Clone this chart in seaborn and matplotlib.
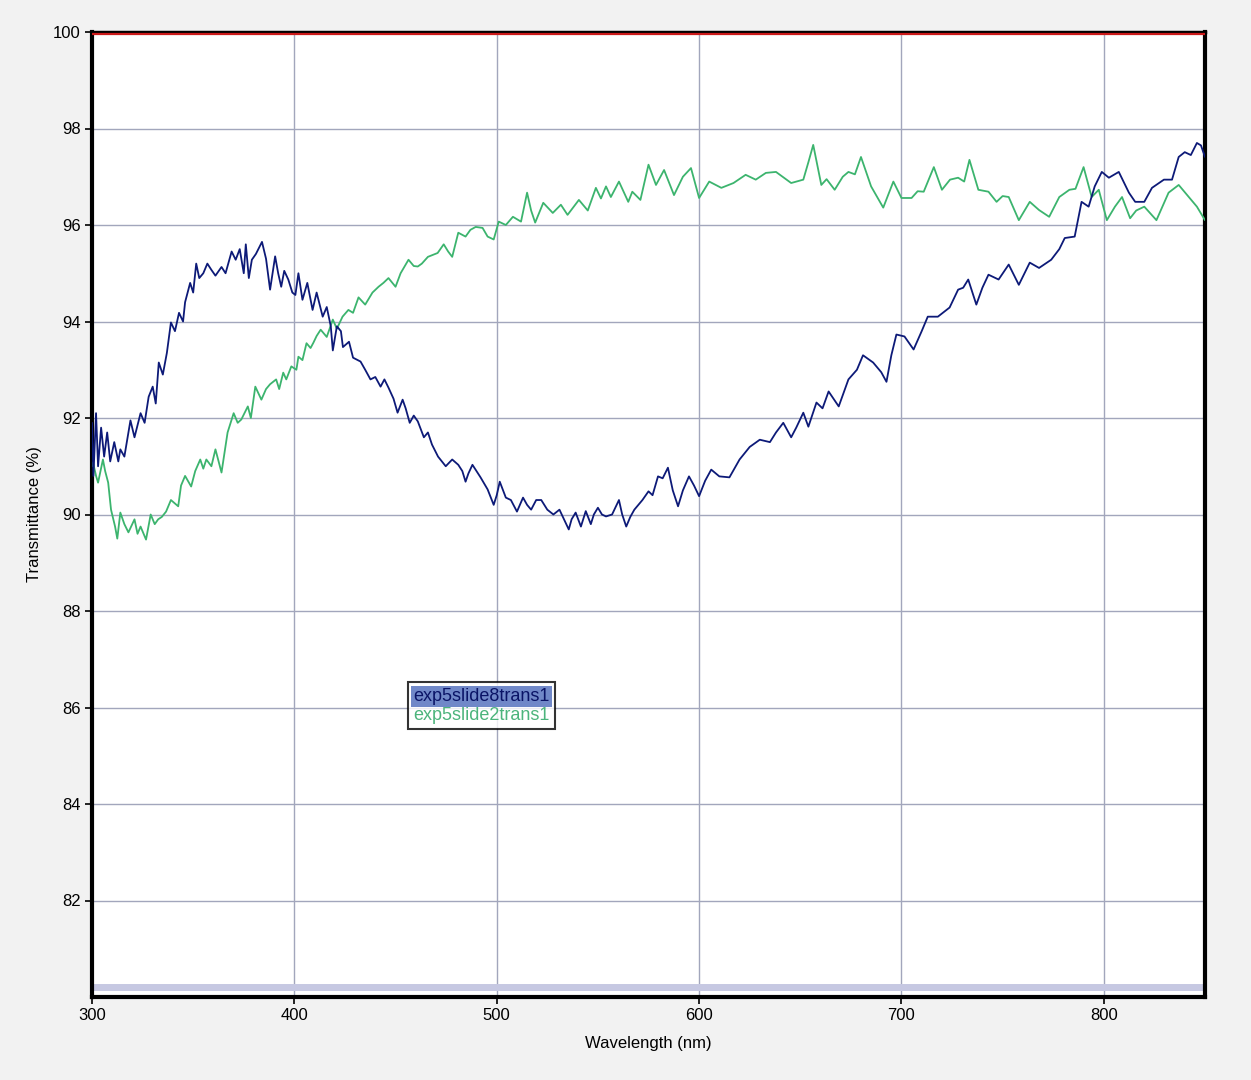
import matplotlib
matplotlib.use("Agg")
import matplotlib.pyplot as plt
import seaborn as sns
import pandas as pd

# Transmittance spectra (wavelength in nm, transmittance in %)
slide8_nm = [300, 300.7, 302, 303, 304.5, 306, 307.5, 309, 311, 313, 314, 316, 319, 321, 324, 326, 328, 330,
             331.5, 333, 335, 337, 339, 341, 343, 345, 346, 348.5, 350, 351.5, 353, 355, 357, 359, 361, 364,
             366, 369, 371, 373, 375, 376, 377.5, 379, 381, 384, 386, 388, 390.5, 392, 393.5, 395, 397, 399,
             400.5, 402, 404, 406.4, 409, 411, 414, 416, 418, 419, 421, 423, 424, 427, 429, 432.7, 435, 437.6,
             440, 442.6, 444.5, 446.5, 449, 451, 453.5, 455, 457, 459, 461, 464, 466, 468, 471, 474.8, 478,
             481, 483, 484.6, 486, 488, 490, 492, 495.5, 498.5, 500, 501.5, 504.5, 507, 510, 513, 515, 517,
             519.5, 522, 525, 528, 531, 535.6, 537, 539, 541.6, 544, 546.5, 548, 550, 552, 554, 557, 560.4,
             562, 564, 566, 568, 572, 575, 577, 579.7, 582, 584.6, 587, 589.6, 592, 595, 597.5, 600, 603, 606,
             610, 615, 620, 625, 630, 635, 638, 641.6, 645.5, 648, 651.5, 654, 658, 661, 664, 669, 673.8, 678,
             681, 686, 690, 692.6, 695, 697.5, 701.5, 706, 710, 713, 718, 723.8, 728, 730.5, 733, 737, 740,
             743, 748, 753, 758, 763.4, 768, 774, 778, 780.7, 785.6, 789, 792.5, 795.5, 799, 802.5, 807.4,
             812.4, 815.5, 820, 823.8, 829.7, 833.7, 837, 840, 843, 846, 848, 850]
slide8_t = [91.9, 90.8, 92.1, 91.0, 91.8, 91.2, 91.7, 91.1, 91.5, 91.1, 91.35, 91.2, 91.95, 91.6, 92.1, 91.9,
            92.44, 92.65, 92.3, 93.15, 92.9, 93.35, 93.98, 93.8, 94.18, 94.0, 94.4, 94.8, 94.6, 95.2, 94.9,
            95.0, 95.2, 95.07, 94.95, 95.13, 95.0, 95.45, 95.28, 95.5, 95.0, 95.6, 94.9, 95.28, 95.4, 95.65,
            95.3, 94.66, 95.35, 95.0, 94.72, 95.05, 94.87, 94.6, 94.55, 95.0, 94.45, 94.8, 94.24, 94.6, 94.1,
            94.3, 93.9, 93.4, 93.9, 93.8, 93.47, 93.58, 93.25, 93.17, 93.0, 92.8, 92.85, 92.65, 92.8, 92.63,
            92.4, 92.11, 92.38, 92.2, 91.9, 92.05, 91.93, 91.6, 91.7, 91.45, 91.2, 91.0, 91.14, 91.03, 90.9,
            90.68, 90.85, 91.03, 90.9, 90.77, 90.52, 90.2, 90.4, 90.68, 90.35, 90.3, 90.06, 90.35, 90.2, 90.1,
            90.3, 90.3, 90.1, 90.0, 90.1, 89.69, 89.9, 90.04, 89.75, 90.07, 89.8, 90.0, 90.14, 90.0, 89.96,
            90.0, 90.3, 90.0, 89.75, 89.95, 90.1, 90.3, 90.48, 90.4, 90.79, 90.75, 90.97, 90.5, 90.17, 90.5,
            90.79, 90.6, 90.38, 90.7, 90.93, 90.79, 90.77, 91.14, 91.4, 91.55, 91.5, 91.7, 91.9, 91.6, 91.8,
            92.11, 91.82, 92.32, 92.2, 92.55, 92.24, 92.8, 93.0, 93.3, 93.15, 92.95, 92.75, 93.3, 93.73,
            93.69, 93.42, 93.8, 94.1, 94.1, 94.29, 94.66, 94.7, 94.87, 94.35, 94.7, 94.97, 94.87, 95.18,
            94.76, 95.22, 95.11, 95.28, 95.5, 95.73, 95.76, 96.48, 96.38, 96.8, 97.1, 96.98, 97.1, 96.67,
            96.48, 96.48, 96.77, 96.94, 96.94, 97.41, 97.51, 97.45, 97.7, 97.65, 97.41]

slide2_nm = [300, 300.5, 302, 303, 305.4, 306.5, 308, 309.4, 311.4, 312.5, 314, 316, 318, 321, 322.5, 324,
             326.7, 329, 331, 332.7, 334.5, 336.6, 339, 342.6, 344, 346, 349, 351, 353.5, 355, 356.5, 359,
             361, 364, 367, 370, 372, 373.8, 377, 378.5, 380.7, 383.7, 386, 388, 391, 392.5, 394.5, 396,
             398.5, 401, 402, 404, 406, 408, 409.4, 411, 413, 416, 419, 421, 423.8, 426.7, 429, 431.7, 435,
             438.6, 441.6, 444, 446.5, 450, 452.5, 456.4, 459, 461, 463, 466, 470.8, 473.8, 476, 478, 481,
             484.6, 487, 489.6, 493, 495.5, 498.5, 501, 504.5, 508, 512, 515, 517, 519, 523, 527.7, 531.7,
             535, 540.6, 545, 549, 551.5, 554, 556.4, 560.4, 565, 567, 571, 575, 578.7, 582.7, 587.6, 592,
             596, 600, 605, 611, 617, 623, 628, 633, 638, 645.5, 651.5, 654, 656.4, 660.4, 663, 667, 671,
             673.8, 677, 680, 685, 691, 696, 700, 705, 708, 711, 716, 720, 724, 728, 731, 733.6, 738, 743,
             747, 750, 753, 758, 763.4, 768, 773, 778, 783, 786, 790, 794, 797.5, 801.5, 805.5, 809, 813,
             816, 820, 826, 832, 837, 842, 846, 850]
slide2_t = [91.0, 91.08, 90.8, 90.66, 91.14, 90.9, 90.66, 90.1, 89.75, 89.5, 90.04, 89.8, 89.63, 89.9, 89.6,
            89.75, 89.48, 90.0, 89.8, 89.9, 89.95, 90.06, 90.3, 90.17, 90.6, 90.8, 90.58, 90.9, 91.14, 90.95,
            91.14, 91.0, 91.35, 90.87, 91.7, 92.1, 91.9, 91.97, 92.24, 92.0, 92.65, 92.38, 92.6, 92.7, 92.8,
            92.6, 92.94, 92.8, 93.07, 93.0, 93.27, 93.2, 93.55, 93.45, 93.56, 93.7, 93.83, 93.68, 94.04,
            93.85, 94.1, 94.24, 94.18, 94.5, 94.35, 94.6, 94.72, 94.8, 94.9, 94.72, 95.0, 95.28, 95.15,
            95.14, 95.2, 95.34, 95.42, 95.6, 95.45, 95.34, 95.84, 95.76, 95.9, 95.96, 95.94, 95.76, 95.7,
            96.07, 96.0, 96.17, 96.07, 96.67, 96.3, 96.05, 96.46, 96.25, 96.42, 96.21, 96.52, 96.3, 96.77,
            96.55, 96.8, 96.58, 96.9, 96.48, 96.69, 96.52, 97.25, 96.83, 97.14, 96.62, 97.0, 97.18, 96.56,
            96.9, 96.77, 96.87, 97.04, 96.94, 97.08, 97.1, 96.87, 96.94, 97.3, 97.66, 96.83, 96.95, 96.73,
            97.0, 97.1, 97.05, 97.41, 96.8, 96.36, 96.9, 96.56, 96.56, 96.7, 96.69, 97.2, 96.73, 96.94,
            96.98, 96.9, 97.35, 96.73, 96.69, 96.48, 96.6, 96.58, 96.1, 96.48, 96.31, 96.17, 96.58, 96.73,
            96.75, 97.2, 96.58, 96.73, 96.1, 96.38, 96.58, 96.14, 96.3, 96.38, 96.1, 96.67, 96.83, 96.58,
            96.38, 96.1]

series_names = ["exp5slide8trans1", "exp5slide2trans1"]
reference_level = 100.0
baseline_level = 80.2

x_ticks = [300, 400, 500, 600, 700, 800]
y_ticks = [82, 84, 86, 88, 90, 92, 94, 96, 98, 100]

BLUE = "#0d1a78"
GREEN = "#3cb46e"

sns.set_theme(style="white")
plt.rcParams["font.family"] = ["Liberation Sans", "DejaVu Sans"]

df8 = pd.DataFrame({"Wavelength": slide8_nm, "T": slide8_t})
df2 = pd.DataFrame({"Wavelength": slide2_nm, "T": slide2_t})

fig = plt.figure(figsize=(12.51, 10.80), dpi=100, facecolor="#f2f2f2")
ax = fig.add_axes([92 / 1251, 1 - 997 / 1080, (1205 - 92) / 1251, (997 - 32) / 1080])
ax.set_facecolor("white")

ax.set_xlim(300, 850)
ax.set_ylim(80, 100)
ax.set_xticks(x_ticks)
ax.set_yticks(y_ticks)
ax.grid(True, color="#a2a6bc", linewidth=1.0)
ax.set_axisbelow(True)

ax.axhline(baseline_level, color="#c6c8e2", linewidth=5, zorder=2)
ax.axhline(reference_level - 0.04, color="#cc1a1a", linewidth=1.6, zorder=3)

sns.lineplot(data=df2, x="Wavelength", y="T", ax=ax, color=GREEN, linewidth=1.3,
             sort=False, estimator=None, label=series_names[1], zorder=4)
sns.lineplot(data=df8, x="Wavelength", y="T", ax=ax, color=BLUE, linewidth=1.3,
             sort=False, estimator=None, label=series_names[0], zorder=5)

for side in ["left", "bottom", "right", "top"]:
    ax.spines[side].set_visible(True)
    ax.spines[side].set_color("black")
    ax.spines[side].set_linewidth(3)
ax.spines["top"].set_linewidth(2.5)

ax.tick_params(axis="both", direction="out", length=5, width=1.2, color="black",
               labelsize=12, labelcolor="black", bottom=True, left=True, pad=3)
ax.set_xlabel("Wavelength (nm)", fontsize=12, color="black", labelpad=9)
ax.set_ylabel("Transmittance (%)", fontsize=12, color="black", labelpad=8)

# legend: text-only entries, the first one highlighted
handles, labels = ax.get_legend_handles_labels()
order = [labels.index(series_names[0]), labels.index(series_names[1])]
leg = ax.legend([handles[i] for i in order], [labels[i] for i in order],
                loc="upper left", bbox_to_anchor=(0.284, 0.326), borderaxespad=0,
                handlelength=0, handletextpad=0, fontsize=13, frameon=True,
                fancybox=False, edgecolor="black", borderpad=0.3, labelspacing=0.1)
leg.get_frame().set_linewidth(1.5)
for h in leg.legend_handles:
    h.set_visible(False)
texts = leg.get_texts()
texts[0].set_color("#0a1466")
texts[0].set_bbox(dict(facecolor="#7088c8", edgecolor="none", pad=1.5))
texts[1].set_color("#4cb47c")

fig.savefig("out.png", dpi=100, facecolor=fig.get_facecolor())
